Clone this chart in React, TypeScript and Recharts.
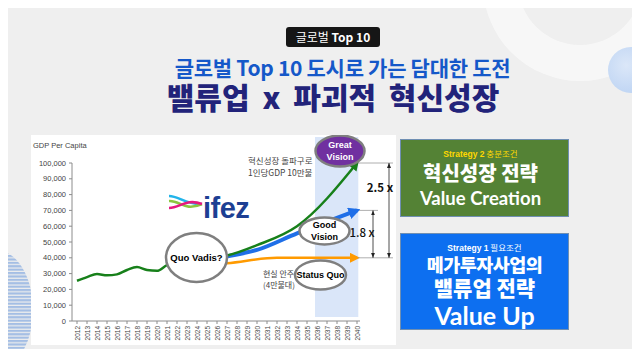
import React from "react";
import { LineChart, Line, XAxis, YAxis, ReferenceArea, ReferenceLine, ReferenceDot } from "recharts";

const KR = '"Noto Sans CJK KR", "Noto Sans", sans-serif';
const AR = '"Liberation Sans", Arial, sans-serif';

const years = [
  2012, 2013, 2014, 2015, 2016, 2017, 2018, 2019, 2020, 2021, 2022, 2023, 2024, 2025,
  2026, 2027, 2028, 2029, 2030, 2031, 2032, 2033, 2034, 2035, 2036, 2037, 2038, 2039, 2040,
];
const yTicks = [0, 10000, 20000, 30000, 40000, 50000, 60000, 70000, 80000, 90000, 100000];

// green: actual GDP per capita, then the "great vision" path (2022-2026 hides under the bubble)
const greatVision = [
  25500, 27800, 29700, 28900, 29500, 32300, 34100, 32300, 31800, 35400, 37500, null, 39000, null,
  40500, 41500, null, null, 48000, null, null, null, 60000, null, null, null, null, null, 100000,
];
const goodVision = [
  null, null, null, null, null, null, null, null, null, null, null, null, null, null,
  40000, 41000, null, null, 45000, null, null, null, 55500, null, null, null, null, null, 70000,
];
const statusQuo = [
  null, null, null, null, null, null, null, null, null, null, null, null, null, null,
  36000, 36500, null, null, null, null, 40000, null, null, null, null, null, null, null, 40000,
];

const data = years.map((year, i) => ({
  year,
  great: greatVision[i],
  good: goodVision[i],
  quo: statusQuo[i],
}));

const Bubble = ({ cx, cy, rx, ry, fill, color, lines, size = 9 }: any) => (
  <g>
    <ellipse cx={cx} cy={cy} rx={rx} ry={ry} fill={fill} stroke="#7f7f7f" strokeWidth={2.5} />
    {lines.map((t: string, i: number) => (
      <text
        key={i}
        x={cx}
        y={cy + (i - (lines.length - 1) / 2) * 12}
        textAnchor="middle"
        dominantBaseline="central"
        fontFamily={AR}
        fontWeight={700}
        fontSize={size}
        fill={color}
      >
        {t}
      </text>
    ))}
  </g>
);

const Note = ({ cx, cy, lines, size = 9, anchor = "start", weight = 400, color = "#444", gap = 12 }: any) => (
  <g>
    {lines.map((t: string, i: number) => (
      <text
        key={i}
        x={cx}
        y={cy + (i - (lines.length - 1) / 2) * gap}
        textAnchor={anchor}
        dominantBaseline="central"
        fontFamily={KR}
        fontWeight={weight}
        fontSize={size}
        fill={color}
      >
        {t}
      </text>
    ))}
  </g>
);

const YearTick = ({ x, y, payload }: any) => (
  <text
    x={x}
    y={y}
    transform={`rotate(-90, ${x}, ${y})`}
    textAnchor="end"
    dominantBaseline="central"
    fontFamily={AR}
    fontSize={6.5}
    fill="#444"
  >
    {payload.value}
  </text>
);

function GdpChart() {
  return (
    <LineChart width={365} height={210} data={data} margin={{ top: 28, right: 36, left: 0, bottom: 0 }}>
      <defs>
        <marker id="arrGreen" viewBox="0 0 10 10" refX="7" refY="5" markerWidth="10" markerHeight="10" markerUnits="userSpaceOnUse" orient="auto">
          <path d="M0,0 L10,5 L0,10 z" fill="#17801a" />
        </marker>
        <marker id="arrBlue" viewBox="0 0 10 10" refX="7" refY="5" markerWidth="12" markerHeight="12" markerUnits="userSpaceOnUse" orient="auto">
          <path d="M0,0 L10,5 L0,10 z" fill="#1f6fe8" />
        </marker>
        <marker id="arrOrange" viewBox="0 0 10 10" refX="7" refY="5" markerWidth="10" markerHeight="10" markerUnits="userSpaceOnUse" orient="auto">
          <path d="M0,0 L10,5 L0,10 z" fill="#ff9a00" />
        </marker>
        <marker id="dim" viewBox="0 0 10 10" refX="10" refY="5" markerWidth="5" markerHeight="5" markerUnits="userSpaceOnUse" orient="auto-start-reverse">
          <path d="M0,1 L10,5 L0,9 z" fill="#222" />
        </marker>
      </defs>
      <ReferenceArea x1={2035.8} x2={2040.13} y1={2500} y2={116500} fill="#dae6f9" fillOpacity={1} stroke="none" ifOverflow="visible" />
      <XAxis
        dataKey="year"
        type="number"
        domain={[2012, 2040]}
        ticks={years}
        interval={0}
        padding={{ left: 5, right: 3 }}
        height={24}
        tick={<YearTick />}
        tickSize={3}
        tickMargin={2}
        axisLine={{ stroke: "#8c8c8c" }}
        tickLine={{ stroke: "#8c8c8c" }}
      />
      <YAxis
        domain={[0, 100000]}
        ticks={yTicks}
        width={41}
        tickSize={3}
        tickMargin={3}
        tick={{ fontSize: 7.5, fill: "#444", fontFamily: AR }}
        tickFormatter={(v) => v.toLocaleString("en-US")}
        axisLine={{ stroke: "#8c8c8c" }}
        tickLine={{ stroke: "#8c8c8c" }}
      />
      <Line dataKey="quo" type="monotone" stroke="#ff9a00" strokeWidth={2.5} dot={false} activeDot={false} connectNulls markerEnd="url(#arrOrange)" isAnimationActive={false} />
      <Line dataKey="good" type="monotone" stroke="#1f6fe8" strokeWidth={4} dot={false} activeDot={false} connectNulls markerEnd="url(#arrBlue)" isAnimationActive={false} />
      <Line dataKey="great" type="monotone" stroke="#17801a" strokeWidth={2.5} dot={false} activeDot={false} connectNulls markerEnd="url(#arrGreen)" isAnimationActive={false} />

      <ReferenceLine segment={[{ x: 2040.1, y: 100000 }, { x: 2043.6, y: 100000 }]} stroke="#9a9a9a" strokeWidth={0.8} ifOverflow="visible" />
      <ReferenceLine segment={[{ x: 2040.2, y: 70000 }, { x: 2042.1, y: 70000 }]} stroke="#9a9a9a" strokeWidth={0.8} ifOverflow="visible" />
      <ReferenceLine segment={[{ x: 2040.1, y: 40000 }, { x: 2043.6, y: 40000 }]} stroke="#9a9a9a" strokeWidth={0.8} ifOverflow="visible" />
      <ReferenceLine segment={[{ x: 2041.6, y: 70000 }, { x: 2041.6, y: 40000 }]} stroke="#222" strokeWidth={0.8} markerStart="url(#dim)" markerEnd="url(#dim)" ifOverflow="visible" />
      <ReferenceLine segment={[{ x: 2043.2, y: 100000 }, { x: 2043.2, y: 40000 }]} stroke="#222" strokeWidth={0.8} markerStart="url(#dim)" markerEnd="url(#dim)" ifOverflow="visible" />

      <ReferenceDot x={2042.3} y={84800} ifOverflow="visible" shape={(p: any) => <Note cx={p.cx} cy={p.cy} lines={["2.5 x"]} size={11.5} anchor="middle" weight={700} color="#111" />} />
      <ReferenceDot x={2040.5} y={56300} ifOverflow="visible" shape={(p: any) => <Note cx={p.cx} cy={p.cy} lines={["1.8 x"]} size={11.5} anchor="middle" weight={500} color="#111" />} />
      <ReferenceDot x={2029.1} y={98100} ifOverflow="visible" shape={(p: any) => <Note cx={p.cx} cy={p.cy} lines={["혁신성장 돌파구로", "1인당GDP 10만불"]} size={8.5} />} />
      <ReferenceDot x={2030.6} y={26600} ifOverflow="visible" shape={(p: any) => <Note cx={p.cx} cy={p.cy} lines={["현실 안주", "(4만불대)"]} size={8} gap={10.5} />} />

      <ReferenceDot x={2023.95} y={40200} ifOverflow="visible" shape={(p: any) => <Bubble cx={p.cx} cy={p.cy} rx={30.5} ry={24.5} fill="#fff" color="#000" lines={["Quo Vadis?"]} size={9.5} />} />
      <ReferenceDot x={2038.3} y={107600} ifOverflow="visible" shape={(p: any) => <Bubble cx={p.cx} cy={p.cy} rx={24.5} ry={15.5} fill="#7030a0" color="#fff" lines={["Great", "Vision"]} size={9} />} />
      <ReferenceDot x={2036.75} y={57000} ifOverflow="visible" shape={(p: any) => <Bubble cx={p.cx} cy={p.cy} rx={25} ry={13.5} fill="#fff" color="#000" lines={["Good", "Vision"]} size={9} />} />
      <ReferenceDot x={2036.35} y={29100} ifOverflow="visible" shape={(p: any) => <Bubble cx={p.cx} cy={p.cy} rx={25.5} ry={14.5} fill="#fff" color="#000" lines={["Status Quo"]} size={9} />} />
    </LineChart>
  );
}

const abs = (s: React.CSSProperties): React.CSSProperties => ({ position: "absolute", whiteSpace: "nowrap", ...s });

export default function App() {
  return (
    <div style={{ position: "relative", width: 640, height: 357, overflow: "hidden", background: "#efefef", margin: -8, fontFamily: KR }}>
      {/* background decorations */}
      <svg width={640} height={357} style={{ position: "absolute", left: 0, top: 0 }}>
        <defs>
          <pattern id="stripes" width="4" height="3.4" patternUnits="userSpaceOnUse">
            <rect width="4" height="2.2" fill="#a4bee4" />
          </pattern>
          <radialGradient id="blueDot" cx="0.4" cy="0.4" r="0.7">
            <stop offset="0" stopColor="#dbe7f8" />
            <stop offset="1" stopColor="#bcd3f3" />
          </radialGradient>
          <mask id="ring">
            <circle cx={580} cy={-16} r={97} fill="#fff" />
            <circle cx={580} cy={-17} r={62} fill="#000" />
          </mask>
        </defs>
        <rect x={0} y={0} width={640} height={357} fill="#f7f7f7" mask="url(#ring)" />
        <circle cx={631} cy={70} r={23} fill="url(#blueDot)" />
        <ellipse cx={-4} cy={310} rx={37} ry={60} fill="url(#stripes)" />
      </svg>

      {/* header */}
      <div style={abs({ left: 286, top: 27, width: 94, height: 20, background: "#161616", borderRadius: 3, color: "#fff", fontSize: 12, lineHeight: "20px", textAlign: "center" })}>
        글로벌 <span style={{ fontWeight: 700, fontFamily: KR }}>Top 10</span>
      </div>
      <div style={abs({ left: 167, top: 56, width: 351, textAlign: "center", color: "#1558c9", fontSize: 21, fontWeight: 700, lineHeight: "22px", letterSpacing: -0.3 })}>
        글로벌 Top 10 도시로 가는 담대한 도전
      </div>
      <div style={abs({ left: 153, top: 80, width: 360, textAlign: "center", color: "#22237a", fontSize: 30, fontWeight: 900, lineHeight: "32px", wordSpacing: 6 })}>
        밸류업 x 파괴적 혁신성장
      </div>

      {/* chart panel */}
      <div style={abs({ left: 31, top: 135, width: 365, height: 210, background: "#fff" })} />
      <div style={abs({ left: 31, top: 135 })}>
        <GdpChart />
      </div>
      <div style={abs({ left: 33, top: 141, fontFamily: AR, fontSize: 7.5, color: "#444" })}>GDP Per Capita</div>

      {/* ifez logo */}
      <svg width={100} height={34} style={{ position: "absolute", left: 166, top: 190 }}>
        <path d="M3,6 C13,6 20,15 36,14" stroke="#22b4ea" strokeWidth={2.6} fill="none" />
        <path d="M3,11 C14,10 18,22 36,14" stroke="#8cc63f" strokeWidth={2.6} fill="none" />
        <path d="M3,18 C14,18 20,8 36,14" stroke="#e5197f" strokeWidth={2.6} fill="none" />
        <text x={37} y={28} fontFamily={AR} fontWeight={700} fontSize={29} fill="#1d3f93" letterSpacing={-0.5}>ifez</text>
      </svg>

      {/* strategy boxes */}
      <div style={abs({ left: 401, top: 140, width: 167, height: 76, background: "#548235", boxShadow: "0 0 0 1px #6f8fb3" })} />
      <div style={abs({ left: 397, top: 147, width: 167, textAlign: "center", fontSize: 8.5, color: "#ffd800", lineHeight: "12px" })}>
        <span style={{ fontFamily: AR, fontWeight: 700 }}>Strategy 2</span> 충분조건
      </div>
      <div style={abs({ left: 397, top: 160, width: 167, textAlign: "center", fontSize: 20, fontWeight: 900, color: "#fff", lineHeight: "26px" })}>
        혁신성장 전략
      </div>
      <div style={abs({ left: 397, top: 186, width: 167, textAlign: "center", fontSize: 18.5, fontWeight: 700, color: "#fff", lineHeight: "24px", fontFamily: "Lato, sans-serif" })}>
        Value Creation
      </div>

      <div style={abs({ left: 401, top: 234, width: 167, height: 95, background: "#0d6ff0", boxShadow: "0 0 0 1px #6f8fb3" })} />
      <div style={abs({ left: 401, top: 241, width: 167, textAlign: "center", fontSize: 8.5, color: "#fff", lineHeight: "12px" })}>
        <span style={{ fontFamily: AR, fontWeight: 700 }}>Strategy 1</span> 필요조건
      </div>
      <div style={abs({ left: 401, top: 254, width: 167, textAlign: "center", fontSize: 18.5, fontWeight: 900, color: "#fff", lineHeight: "20px", letterSpacing: -0.5 })}>
        메가투자사업의
      </div>
      <div style={abs({ left: 401, top: 275, width: 167, textAlign: "center", fontSize: 21, fontWeight: 900, color: "#fff", lineHeight: "24px" })}>
        밸류업 전략
      </div>
      <div style={abs({ left: 401, top: 300, width: 167, textAlign: "center", fontSize: 25, fontWeight: 700, color: "#fff", lineHeight: "30px", fontFamily: "Lato, sans-serif" })}>
        Value Up
      </div>
    </div>
  );
}
